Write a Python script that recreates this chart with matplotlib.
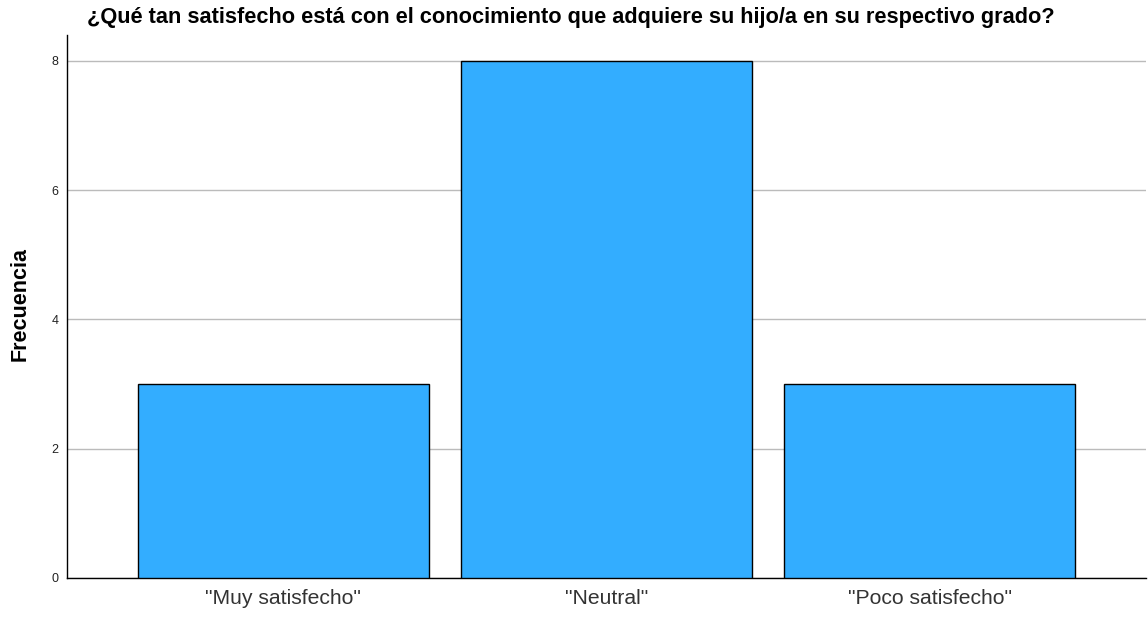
import matplotlib
matplotlib.use("Agg")
import matplotlib.pyplot as plt

categories = ['"Muy satisfecho"', '"Neutral"', '"Poco satisfecho"']
frecuencia = [3, 8, 3]
y_ticks = [0, 2, 4, 6, 8]
title = "¿Qué tan satisfecho está con el conocimiento que adquiere su hijo/a en su respectivo grado?"

plt.rcParams['font.family'] = ['Liberation Sans', 'DejaVu Sans']

fig = plt.figure(figsize=(11.48, 6.17), dpi=100)
ax = fig.add_axes([67/1148, 39/617, 1079/1148, 543/617])

pos = list(range(len(categories)))
ax.bar(pos, frecuencia, width=0.9, color="#33adff", edgecolor="black", linewidth=1, zorder=3)

ax.set_xlim(-0.668, 2.668)
ax.set_ylim(0, 8.40)
ax.set_yticks(y_ticks)
ax.set_yticklabels([str(v) for v in y_ticks], fontsize=9, color="#222222")
ax.set_xticks(pos)
ax.set_xticklabels(categories, fontsize=15.2, color="#333333")
ax.tick_params(axis="both", length=0)
ax.tick_params(axis="y", pad=6)
ax.tick_params(axis="x", pad=8)

ax.grid(axis="y", color="#bbbbbb", linewidth=1, zorder=0)
for s in ["top", "right"]:
    ax.spines[s].set_visible(False)
for s in ["left", "bottom"]:
    ax.spines[s].set_color("black")
    ax.spines[s].set_linewidth(1)

ax.set_ylabel("Frecuencia", fontsize=15.5, fontweight="bold")
ax.yaxis.set_label_coords(-0.034, 0.505)
fig.text(571/1148, 1 - 18/617, title, ha="center", va="center", fontsize=15.7, fontweight="bold")

fig.savefig("out.png", dpi=100)
